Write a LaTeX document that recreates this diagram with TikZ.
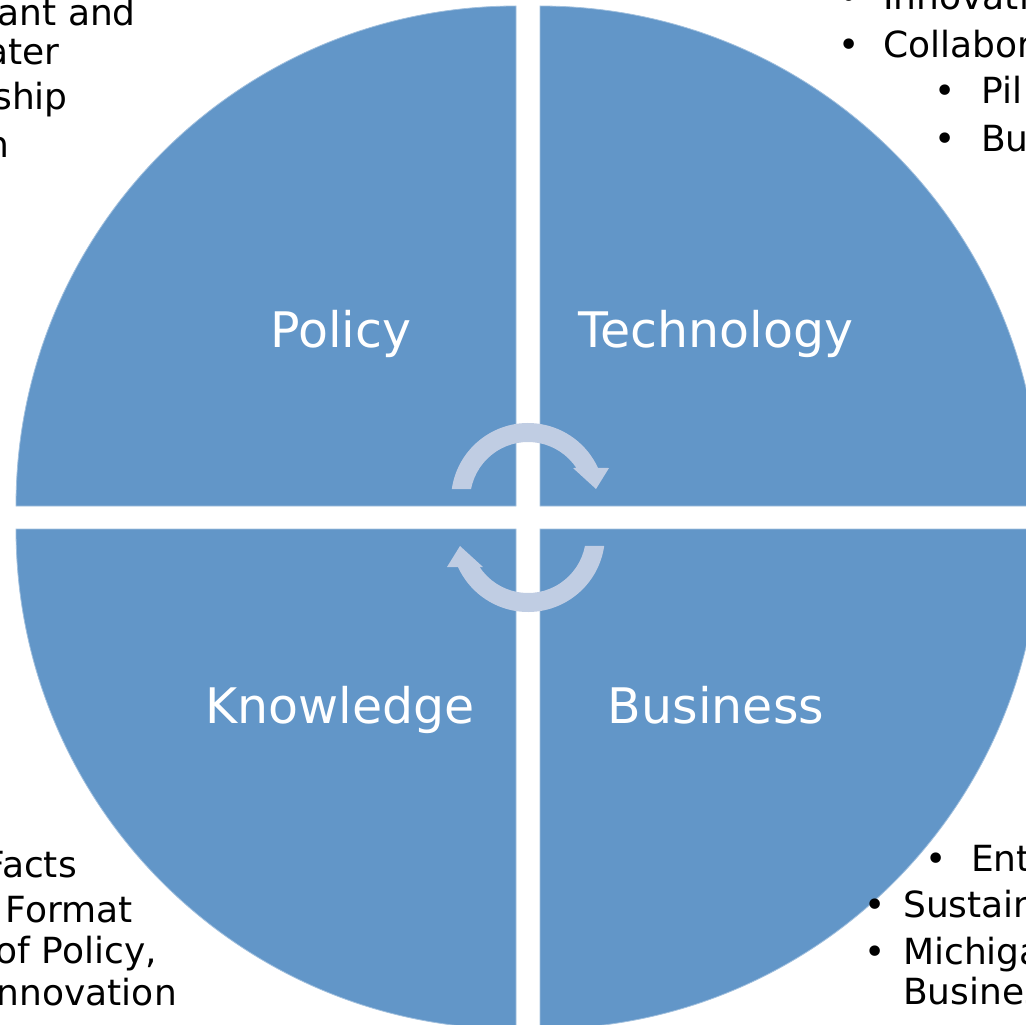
\documentclass[tikz,border=0pt]{standalone}
\usepackage{fontspec}
\setmainfont{DejaVu Sans}
\definecolor{quadblue}{HTML}{6296C8}
\definecolor{cycleblue}{HTML}{C0CDE3}

\begin{document}
\begin{tikzpicture}[x=1pt, y=-1pt,
    quad/.style={fill=quadblue, draw=quadblue!60!white, line width=0.8pt},
    quadlabel/.style={text=white, font=\fontsize{49}{59}\selectfont, inner sep=0pt, anchor=base},
    side/.style={font=\fontsize{36}{44}\selectfont, inner sep=0pt}]
  \useasboundingbox (0,0) rectangle (1026,1025);
  \clip (0,0) rectangle (1026,1025);
  % Quadrants
  \fill[quad] (516,506) -- (16,506) arc[start angle=180, end angle=270, radius=500] -- cycle;
  \fill[quad] (540,506) -- (540,6) arc[start angle=270, end angle=360, radius=500] -- cycle;
  \fill[quad] (516,529) -- (516,1029) arc[start angle=90, end angle=180, radius=500] -- cycle;
  \fill[quad] (540,529) -- (1040,529) arc[start angle=0, end angle=90, radius=500] -- cycle;
  % Cycle arrows
  \foreach \a in {0,180} {
    \begin{scope}[rotate around={\a:(528,517.5)}, shift={(528,500)}]
      \fill[cycleblue] (188.2:77) arc[start angle=188.2, end angle=335.4, radius=77]
        -- (81,-32) -- (68,-11) -- (45,-32)
        -- (326.5:58) arc[start angle=326.5, end angle=190.9, radius=58] -- cycle;
    \end{scope}
  }
  % Quadrant labels
  \node[quadlabel] (policy) at (341,347) {Policy};
  \node[quadlabel] (technology) at (716,347) {Technology};
  \node[quadlabel] (knowledge) at (340,723) {Knowledge};
  \node[quadlabel] (business) at (716,723) {Business};
  % Policy side
  \node[side, anchor=base east] (pol1) at (136,26) {ant and};
  \node[side, anchor=base east] (pol2) at (60,65) {ater};
  \node[side, anchor=base east] (pol3) at (68,110) {ship};
  \node[side, anchor=base east] (pol4) at (10,157) {n};
  % Technology side
  \node[side, anchor=base] (tecb1) at (849,10) {•};
  \node[side, anchor=base west] (tec1) at (883,10) {Innovati};
  \node[side, anchor=base] (tecb2) at (849,58) {•};
  \node[side, anchor=base west] (tec2) at (883,58) {Collabor};
  \node[side, anchor=base] (tecb3) at (945,103) {•};
  \node[side, anchor=base west] (tec3) at (981,103) {Pil};
  \node[side, anchor=base] (tecb4) at (945,151) {•};
  \node[side, anchor=base west] (tec4) at (981,151) {Bu};
  % Knowledge side
  \node[side, anchor=base east] (kno1) at (77,877) {Facts};
  \node[side, anchor=base east] (kno2) at (133,922) {Format};
  \node[side, anchor=base east] (kno3) at (157,963) {of Policy,};
  \node[side, anchor=base east] (kno4) at (177,1005) {nnovation};
  % Business side
  \node[side, anchor=base] (busb1) at (936,871) {•};
  \node[side, anchor=base west] (bus1) at (971,871) {Ent};
  \node[side, anchor=base] (busb2) at (875,917) {•};
  \node[side, anchor=base west] (bus2) at (903,917) {Sustain};
  \node[side, anchor=base] (busb3) at (875,964) {•};
  \node[side, anchor=base west] (bus3) at (903,964) {Michiga};
  \node[side, anchor=base west] (bus4) at (903,1004) {Busines};
\end{tikzpicture}
\end{document}
